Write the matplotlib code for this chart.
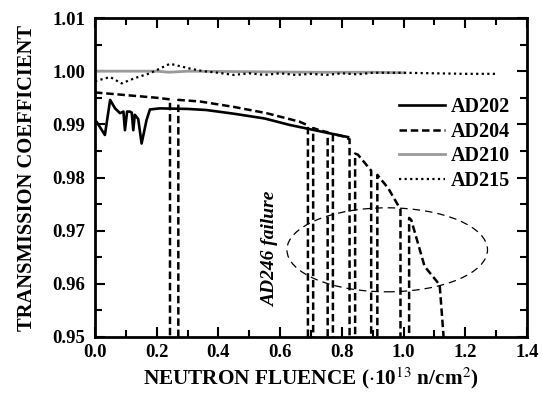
import matplotlib.pyplot as plt
from matplotlib.patches import Ellipse

plt.rcParams['font.family'] = ['Liberation Serif', 'DejaVu Serif']
plt.rcParams['mathtext.fontset'] = 'stix'

# --- data ---
ad202_x = [0.0, 0.005, 0.032, 0.049, 0.065, 0.081, 0.092, 0.097, 0.104, 0.113, 0.119, 0.124,
           0.129, 0.14, 0.151, 0.167, 0.178, 0.21, 0.30, 0.36, 0.45, 0.55, 0.63, 0.72, 0.82]
ad202_y = [0.9905, 0.9905, 0.9880, 0.9946, 0.9930, 0.9921, 0.9924, 0.9889, 0.9924, 0.9924,
           0.9922, 0.9889, 0.9918, 0.9910, 0.9864, 0.9908, 0.9928, 0.9930, 0.9929, 0.9927,
           0.9920, 0.9911, 0.9899, 0.9888, 0.9876]

# vertical excursions down to 0.94 are the drop-outs of the AD204 record
ad204_x = [0.0, 0.1, 0.2, 0.243, 0.243, 0.27, 0.27, 0.34, 0.448, 0.556, 0.663, 0.69, 0.69,
           0.707, 0.707, 0.728, 0.754, 0.754, 0.771, 0.771, 0.80, 0.825, 0.825, 0.843, 0.843,
           0.852, 0.895, 0.895, 0.915, 0.915, 0.95, 0.99, 0.99, 1.018, 1.018, 1.025, 1.068,
           1.117, 1.135]
ad204_y = [0.9960, 0.9955, 0.9950, 0.9947, 0.94, 0.94, 0.9946, 0.9943, 0.9933, 0.9921,
           0.9905, 0.9898, 0.94, 0.94, 0.9893, 0.9889, 0.9885, 0.94, 0.94, 0.9882, 0.9878,
           0.9872, 0.94, 0.94, 0.9845, 0.9843, 0.9813, 0.94, 0.94, 0.9805, 0.9780, 0.9740,
           0.94, 0.94, 0.9724, 0.9720, 0.9633, 0.9598, 0.946]

ad210_x = [0.0, 0.2, 0.24, 0.3, 0.5, 0.7, 0.9, 1.0]
ad210_y = [1.0000, 1.0000, 0.9998, 1.0000, 0.9999, 0.9998, 0.9998, 0.9997]

ad215_x = [0.0, 0.005, 0.049, 0.086, 0.129, 0.178, 0.243, 0.307, 0.35, 0.4, 0.45, 0.5, 0.55,
           0.6, 0.65, 0.7, 0.75, 0.8, 0.85, 0.9, 1.0, 1.1, 1.2, 1.30]
ad215_y = [0.9982, 0.9982, 0.9989, 0.9977, 0.9987, 0.9996, 1.0014, 1.0005, 1.0000, 0.9997,
           0.9993, 0.9996, 0.9993, 0.9996, 0.9993, 0.9995, 0.9993, 0.9996, 0.9994, 0.9997,
           0.9997, 0.9996, 0.9995, 0.9995]

fig = plt.figure(figsize=(5.42, 3.96), dpi=100)
ax = fig.add_axes([0.1753, 0.149, 0.797, 0.8055])

ax.plot(ad202_x, ad202_y, color='black', lw=1.9, label='AD202')
ax.plot(ad204_x, ad204_y, color='black', lw=1.8, dashes=(3, 1.5), label='AD204')
ax.plot(ad210_x, ad210_y, color='#9a9a9a', lw=2.0, label='AD210')
ax.plot(ad215_x, ad215_y, color='black', lw=1.6, dashes=(1, 1.5), label='AD215')

ax.add_patch(Ellipse((0.947, 0.9664), 0.65, 0.0158, fill=False, ec='black',
                     lw=0.9, ls=(0, (6, 4))))
ax.text(0.57, 0.9665, 'AD246 failure', rotation=90, ha='center', va='center',
        fontsize=14, fontstyle='italic', fontweight='bold')

ax.set_xlim(0, 1.4)
ax.set_ylim(0.95, 1.01)
ax.set_xticks([0.0, 0.2, 0.4, 0.6, 0.8, 1.0, 1.2, 1.4])
ax.set_xticks([0.1, 0.3, 0.5, 0.7, 0.9, 1.1, 1.3], minor=True)
ax.set_yticks([0.95, 0.96, 0.97, 0.98, 0.99, 1.00, 1.01])
ax.set_yticks([0.955, 0.965, 0.975, 0.985, 0.995, 1.005], minor=True)
ax.set_xticklabels(['%.1f' % v for v in ax.get_xticks()])
ax.set_yticklabels(['%.2f' % v for v in ax.get_yticks()])
ax.tick_params(which='both', direction='in', top=True, right=True, width=1.5,
               labelsize=13.5)
ax.tick_params(which='major', length=7)
ax.tick_params(which='minor', length=5)
ax.tick_params(axis='y', pad=7)
ax.tick_params(axis='x', pad=5)
for lab in ax.get_xticklabels() + ax.get_yticklabels():
    lab.set_fontweight('bold')
for s in ax.spines.values():
    s.set_linewidth(2)

ax.set_xlabel(r'NEUTRON FLUENCE ($\cdot$10$^{13}$ n/cm$^{2}$)', fontsize=15.3,
              fontweight='bold', labelpad=3)
ax.set_ylabel('TRANSMISSION COEFFICIENT', fontsize=14.8, fontweight='bold', labelpad=11)

leg = ax.legend(loc='upper right', bbox_to_anchor=(0.961, 0.752), frameon=False,
                prop={'weight': 'bold', 'size': 14.5}, handlelength=2.3,
                labelspacing=0.23, handletextpad=0.3, borderaxespad=0, borderpad=0)

fig.savefig('out.png', dpi=100)
